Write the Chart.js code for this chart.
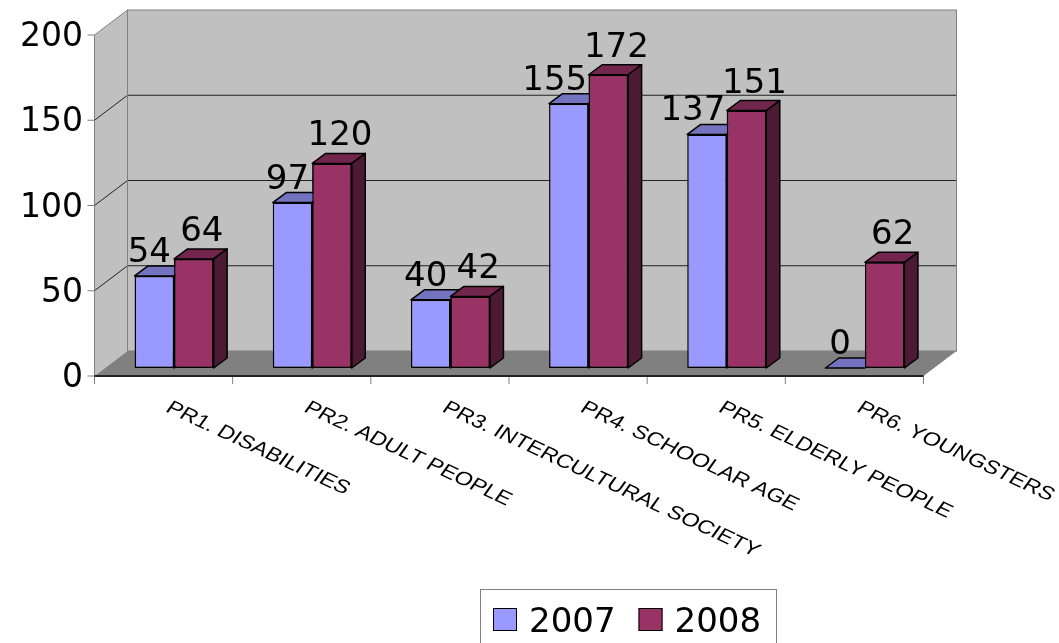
<!DOCTYPE html>
<html>
<head>
<meta charset="utf-8">
<script src="https://cdn.jsdelivr.net/npm/chart.js@4/dist/chart.umd.min.js"></script>
<style>
  html, body { margin: 0; padding: 0; background: #fff; }
  #wrap { width: 1059px; height: 643px; }
</style>
</head>
<body>
<div id="wrap"><canvas id="grafico"></canvas></div>
<script>
// Dados
const categorias = ['PR1. DISABILITIES', 'PR2. ADULT PEOPLE', 'PR3. INTERCULTURAL SOCIETY', 'PR4. SCHOOLAR AGE', 'PR5. ELDERLY PEOPLE', 'PR6. YOUNGSTERS'];
const anos = ['2007', '2008'];
const valores2007 = [54, 97, 40, 155, 137, 0];
const valores2008 = [64, 120, 42, 172, 151, 62];
const ticksY = [0, 50, 100, 150, 200];

// Cores (frente, topo, lateral)
const cores = [
  { frente: '#9999FF', topo: '#7373BF', lado: '#5C5C99' },
  { frente: '#993366', topo: '#73264D', lado: '#4D1A33' }
];

// Deslocamentos da perspectiva, relativos ao plano da frente das barras
const FRENTE = { dx: -10.5, dy: 8 };
const FUNDO = { dx: 22.5, dy: -17 };
const PROF = { dx: 13.5, dy: -10 };

function poligono(ctx, pts) {
  ctx.beginPath();
  ctx.moveTo(pts[0][0], pts[0][1]);
  for (let i = 1; i < pts.length; i++) ctx.lineTo(pts[i][0], pts[i][1]);
  ctx.closePath();
}

function linha(ctx, x1, y1, x2, y2) {
  ctx.beginPath();
  ctx.moveTo(x1, y1);
  ctx.lineTo(x2, y2);
  ctx.stroke();
}

const cena3d = {
  id: 'cena3d',
  // Paredes, chão e grade
  beforeDraw(chart) {
    const { ctx, chartArea: a, scales: { x, y } } = chart;
    const topo = y.getPixelForValue(ticksY[ticksY.length - 1]);
    const base = y.getPixelForValue(0);
    const L = a.left, R = a.right;
    ctx.save();

    // parede lateral
    ctx.fillStyle = '#C0C0C0';
    poligono(ctx, [[L + FRENTE.dx, topo + FRENTE.dy], [L + FUNDO.dx, topo + FUNDO.dy], [L + FUNDO.dx, base + FUNDO.dy], [L + FRENTE.dx, base + FRENTE.dy]]);
    ctx.fill();
    // parede do fundo
    ctx.fillRect(L + FUNDO.dx, topo + FUNDO.dy, R - L, base - topo);

    // chão
    ctx.fillStyle = '#808080';
    poligono(ctx, [[L + FRENTE.dx, base + FRENTE.dy], [L + FUNDO.dx, base + FUNDO.dy], [R + FUNDO.dx, base + FUNDO.dy], [R + FRENTE.dx, base + FRENTE.dy]]);
    ctx.fill();

    // linhas de grade
    ctx.lineWidth = 1;
    ctx.strokeStyle = '#222';
    ticksY.slice(1, -1).forEach(v => {
      const py = y.getPixelForValue(v);
      linha(ctx, L + FRENTE.dx, py + FRENTE.dy, L + FUNDO.dx, py + FUNDO.dy);
      linha(ctx, L + FUNDO.dx, py + FUNDO.dy, R + FUNDO.dx, py + FUNDO.dy);
    });

    // bordas das paredes
    ctx.strokeStyle = '#808080';
    linha(ctx, L + FRENTE.dx, topo + FRENTE.dy, L + FUNDO.dx, topo + FUNDO.dy);
    ctx.strokeRect(L + FUNDO.dx, topo + FUNDO.dy, R - L, base - topo);
    linha(ctx, L + FRENTE.dx, topo + FRENTE.dy, L + FRENTE.dx, base + FRENTE.dy);

    // marcas do eixo Y
    ticksY.forEach(v => {
      const py = y.getPixelForValue(v) + FRENTE.dy;
      linha(ctx, L + FRENTE.dx - 7, py, L + FRENTE.dx, py);
    });

    // marcas do eixo X
    const passo = x.getPixelForValue(1) - x.getPixelForValue(0);
    for (let i = 0; i <= categorias.length; i++) {
      const px = x.getPixelForValue(0) - passo / 2 + i * passo + FRENTE.dx;
      linha(ctx, px, base + FRENTE.dy, px, base + FRENTE.dy + 8);
    }

    // borda frontal do chão
    ctx.strokeStyle = '#222';
    ctx.lineWidth = 2;
    linha(ctx, L + FRENTE.dx, base + FRENTE.dy, R + FRENTE.dx, base + FRENTE.dy);
    ctx.restore();
  },

  afterDatasetsDraw(chart) {
    const { ctx } = chart;
    const metas = chart.data.datasets.map((ds, di) => chart.getDatasetMeta(di));

    // Topo e lateral das barras; cada série redesenha a frente por cima da anterior
    ctx.save();
    ctx.lineWidth = 1.5;
    ctx.strokeStyle = '#000';
    ctx.lineJoin = 'round';
    metas.forEach((meta, di) => {
      const cor = cores[di];
      meta.data.forEach(bar => {
        if (di > 0) bar.draw(ctx);
        const { x: bx, y: by, base, width } = bar.getProps(['x', 'y', 'base', 'width'], true);
        const x1 = bx - width / 2, x2 = bx + width / 2;
        ctx.lineWidth = 1.5;
        ctx.strokeStyle = '#000';
        ctx.fillStyle = cor.topo;
        poligono(ctx, [[x1, by], [x2, by], [x2 + PROF.dx, by + PROF.dy], [x1 + PROF.dx, by + PROF.dy]]);
        ctx.fill();
        ctx.stroke();
        if (base - by > 0.5) {
          ctx.fillStyle = cor.lado;
          poligono(ctx, [[x2, by], [x2 + PROF.dx, by + PROF.dy], [x2 + PROF.dx, base + PROF.dy], [x2, base]]);
          ctx.fill();
          ctx.stroke();
        }
      });
    });
    ctx.restore();

    // Rótulos de valor
    ctx.save();
    ctx.font = '34px "DejaVu Sans", sans-serif';
    ctx.fillStyle = '#000';
    ctx.textAlign = 'center';
    ctx.textBaseline = 'alphabetic';
    const desloc = [{ dx: -5, dy: -14 }, { dx: 8, dy: -18 }];
    chart.data.datasets.forEach((ds, di) => {
      metas[di].data.forEach((bar, i) => {
        const { x: bx, y: by } = bar.getProps(['x', 'y'], true);
        const txt = String(ds.data[i]);
        let px = bx + desloc[di].dx;
        const py = by + desloc[di].dy;
        // afasta o rótulo da barra vizinha mais alta
        const viz = metas[di + 1] && metas[di + 1].data[i];
        if (viz) {
          const v = viz.getProps(['x', 'y', 'width'], true);
          const esq = v.x - v.width / 2;
          const m = ctx.measureText(txt);
          const dir = px + m.actualBoundingBoxRight;
          if (dir > esq && py > v.y) px -= dir - esq + 4;
        }
        ctx.fillText(txt, px, py);
      });
    });
    ctx.restore();
  },

  // Categorias inclinadas e legenda
  afterDraw(chart) {
    const { ctx, chartArea: a, scales: { x } } = chart;
    ctx.save();
    ctx.font = '19px "Liberation Sans", Arial, sans-serif';
    ctx.fillStyle = '#000';
    ctx.textAlign = 'left';
    ctx.textBaseline = 'alphabetic';
    chart.data.labels.forEach((txt, i) => {
      ctx.save();
      ctx.translate(x.getPixelForValue(i) + FRENTE.dx + 1, a.bottom + FRENTE.dy + 35);
      ctx.scale(1.24, 1);
      ctx.rotate(Math.PI / 6);
      ctx.fillText(txt, 0, 0);
      ctx.restore();
    });

    // legenda
    ctx.strokeStyle = '#808080';
    ctx.lineWidth = 1;
    ctx.strokeRect(480.5, 589.5, 296, 80);
    ctx.font = '34px "DejaVu Sans", sans-serif';
    let cx = 493;
    chart.data.datasets.forEach(ds => {
      ctx.fillStyle = ds.backgroundColor;
      ctx.fillRect(cx, 608, 24, 23);
      ctx.strokeStyle = '#000';
      ctx.strokeRect(cx + 0.5, 608.5, 23, 22);
      ctx.fillStyle = '#000';
      ctx.fillText(ds.label, cx + 36, 632);
      cx += 36 + ctx.measureText(ds.label).width + 23;
    });
    ctx.restore();
  }
};

const ctx = document.getElementById('grafico').getContext('2d');
new Chart(ctx, {
  type: 'bar',
  data: {
    labels: categorias,
    datasets: [
      { label: anos[0], data: valores2007, backgroundColor: cores[0].frente },
      { label: anos[1], data: valores2008, backgroundColor: cores[1].frente }
    ]
  },
  options: {
    responsive: true,
    maintainAspectRatio: false,
    animation: false,
    devicePixelRatio: 1,
    layout: { padding: { left: 0, right: 125, top: 27, bottom: 275 } },
    datasets: {
      bar: {
        categoryPercentage: 0.572,
        barPercentage: 1,
        borderWidth: 1.5,
        borderColor: '#000',
        borderSkipped: false
      }
    },
    plugins: {
      legend: { display: false },
      tooltip: { enabled: false }
    },
    scales: {
      x: { display: false },
      y: {
        min: 0,
        max: 200,
        grid: { display: false, drawTicks: false },
        border: { display: false },
        ticks: {
          stepSize: 50,
          padding: 22,
          labelOffset: 10.5,
          color: '#000',
          font: { family: 'DejaVu Sans', size: 33 }
        },
        // largura fixa e sem folga extra em cima/embaixo
        afterFit(scale) {
          scale.width = 105;
          scale.paddingTop = 0;
          scale.paddingBottom = 0;
        }
      }
    }
  },
  plugins: [cena3d]
});
</script>
</body>
</html>
